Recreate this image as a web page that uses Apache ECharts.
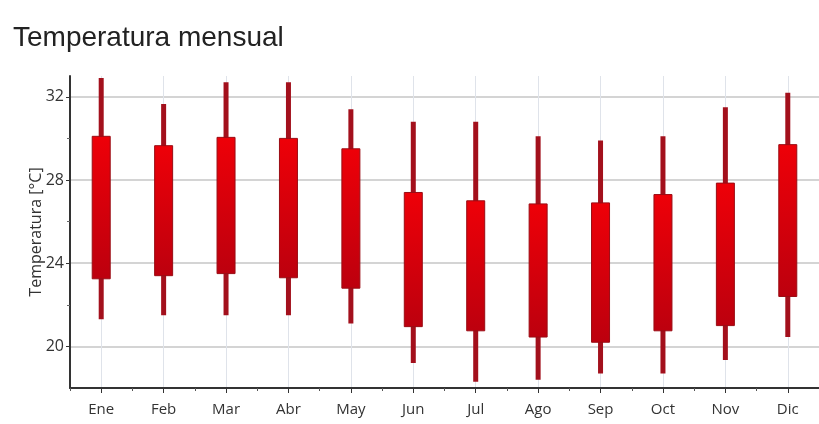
<!DOCTYPE html>
<html lang="es">
<head>
  <meta charset="UTF-8">
  <title>Temperatura mensual</title>
  <script src="https://cdn.jsdelivr.net/npm/echarts@6/dist/echarts.min.js"></script>
  <style>
    html, body { margin: 0; padding: 0; background: #fff; }
    #chart { width: 819px; height: 424px; }
  </style>
</head>
<body>
  <div id="chart"></div>
  <script>
    // datos
    var meses = ['Ene', 'Feb', 'Mar', 'Abr', 'May', 'Jun', 'Jul', 'Ago', 'Sep', 'Oct', 'Nov', 'Dic']
    var minimas = [21.3, 21.5, 21.5, 21.5, 21.1, 19.2, 18.3, 18.4, 18.7, 18.7, 19.35, 20.45]
    var bajas = [23.25, 23.4, 23.5, 23.3, 22.8, 20.95, 20.75, 20.45, 20.2, 20.75, 21.0, 22.4]
    var altas = [30.1, 29.65, 30.05, 30.0, 29.5, 27.4, 27.0, 26.85, 26.9, 27.3, 27.85, 29.7]
    var maximas = [32.9, 31.65, 32.7, 32.7, 31.4, 30.8, 30.8, 30.1, 29.9, 30.1, 31.5, 32.2]
    var ticksY = [20, 24, 28, 32]
    var ticksMenores = [22, 26, 30]

    var datos = meses.map(function (m, i) {
      return [i, minimas[i], bajas[i], altas[i], maximas[i]]
    })

    var fuente = 'Open Sans, Noto Sans, sans-serif'

    function dibujar(params, api) {
      var x = api.value(0)
      var pMin = api.coord([x, api.value(1)])
      var pBaja = api.coord([x, api.value(2)])
      var pAlta = api.coord([x, api.value(3)])
      var pMax = api.coord([x, api.value(4)])
      var cx = pMin[0]
      return {
        type: 'group',
        children: [
          {
            type: 'rect',
            shape: { x: cx - 2.5, y: pMax[1], width: 5, height: pMin[1] - pMax[1] },
            style: { fill: '#a3101c' }
          },
          {
            type: 'rect',
            shape: { x: cx - 9, y: pAlta[1], width: 18, height: pBaja[1] - pAlta[1] },
            style: {
              fill: new echarts.graphic.LinearGradient(0, 0, 0, 1, [
                { offset: 0, color: '#ee0008' },
                { offset: 1, color: '#bc000e' }
              ]),
              stroke: '#9a0c14',
              lineWidth: 1
            }
          }
        ]
      }
    }

    var chart = echarts.init(document.getElementById('chart'))
    chart.setOption({
      animation: false,
      title: {
        text: 'Temperatura mensual',
        left: 8,
        top: 19,
        textStyle: { fontFamily: 'Liberation Sans, Arial, sans-serif', fontSize: 28, fontWeight: 'normal', color: '#222' }
      },
      grid: { left: 70, right: -13, top: 76, bottom: 36 },
      xAxis: [
        {
          type: 'category',
          data: meses,
          boundaryGap: true,
          axisLine: { lineStyle: { color: '#333', width: 2 } },
          axisTick: { show: true, alignWithLabel: true, length: 5, lineStyle: { color: '#333' } },
          axisLabel: { fontFamily: fuente, fontSize: 15, color: '#333', margin: 14 },
          splitLine: { show: true, alignWithLabel: true, lineStyle: { color: '#dfe3ea', width: 1 } }
        },
        {
          type: 'category',
          data: meses,
          position: 'bottom',
          boundaryGap: true,
          axisLine: { show: false },
          axisTick: { show: true, length: 3, lineStyle: { color: '#555' } },
          axisLabel: { show: false },
          splitLine: { show: false }
        }
      ],
      yAxis: [
        {
          type: 'value',
          min: 18,
          max: 33,
          interval: 2,
          name: 'Temperatura [°C]',
          nameLocation: 'middle',
          nameGap: 26,
          nameMoveOverlap: false,
          nameTextStyle: { fontFamily: fuente, fontSize: 16, color: '#333' },
          axisLine: { show: true, lineStyle: { color: '#333', width: 2 } },
          axisTick: { show: true, length: 4, customValues: ticksY, lineStyle: { color: '#333' } },
          axisLabel: { fontFamily: fuente, fontSize: 16, color: '#333', margin: 6, customValues: ticksY },
          splitLine: { show: true, lineStyle: { color: '#d4d4d4', width: 2 } }
        },
        {
          type: 'value',
          min: 18,
          max: 33,
          interval: 2,
          position: 'left',
          axisLine: { show: false },
          axisTick: { show: true, length: 3, customValues: ticksMenores, lineStyle: { color: '#666' } },
          axisLabel: { show: false },
          splitLine: { show: false }
        }
      ],
      series: [{
        type: 'custom',
        renderItem: dibujar,
        encode: { x: 0, y: [1, 2, 3, 4] },
        data: datos,
        clip: false
      }]
    })
  </script>
</body>
</html>
